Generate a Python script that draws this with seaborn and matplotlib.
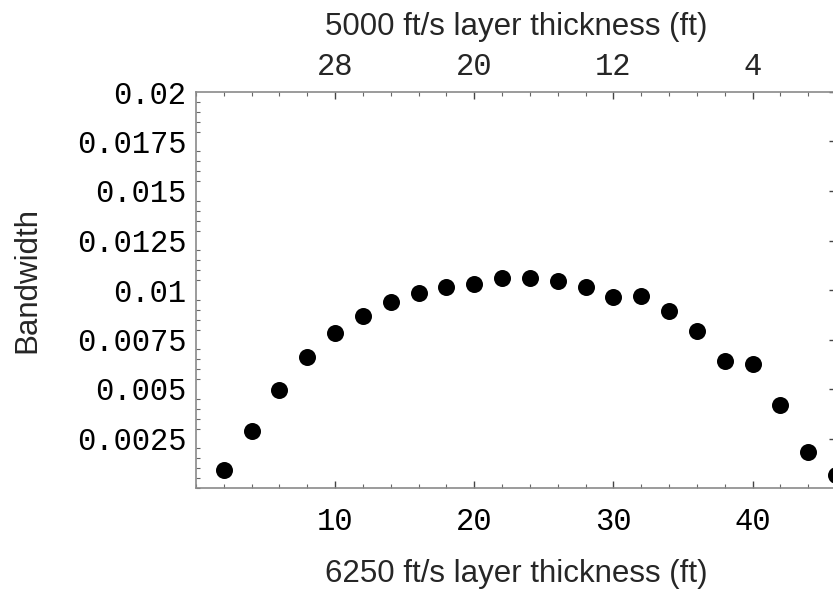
import numpy as np
import pandas as pd
import matplotlib
matplotlib.use("Agg")
import matplotlib.pyplot as plt
import seaborn as sns
from matplotlib.ticker import FixedLocator, MultipleLocator, FuncFormatter

# ---- data ----
thickness_6250 = [2, 4, 6, 8, 10, 12, 14, 16, 18, 20, 22, 24,
                  26, 28, 30, 32, 34, 36, 38, 40, 42, 44, 46]
bandwidth = [0.00091, 0.00288, 0.00495, 0.00660, 0.00781, 0.00869,
             0.00938, 0.00986, 0.01017, 0.01030, 0.01062, 0.01059,
             0.01044, 0.01014, 0.00963, 0.00970, 0.00895, 0.00791,
             0.00641, 0.00626, 0.00418, 0.00184, 0.00066]
bottom_ticks = [10, 20, 30, 40]
top_ticks = [28, 20, 12, 4]
y_ticks = [0.0025, 0.005, 0.0075, 0.01, 0.0125, 0.015, 0.0175, 0.02]
y_tick_labels = ["0.0025", "0.005", "0.0075", "0.01", "0.0125", "0.015", "0.0175", "0.02"]
xlabel_bottom = "6250 ft/s layer thickness (ft)"
xlabel_top = "5000 ft/s layer thickness (ft)"
ylabel = "Bandwidth"

df = pd.DataFrame({"x": thickness_6250, "y": bandwidth})

sns.set_theme(style="white")
plt.rcParams["font.family"] = ["Liberation Sans", "DejaVu Sans"]

W, H = 833, 592
fig = plt.figure(figsize=(W / 100, H / 100), dpi=100)
left_px, right_px, top_px, bot_px = 196, 836, 92, 488
ax = fig.add_axes([left_px / W, (H - bot_px) / H, (right_px - left_px) / W, (bot_px - top_px) / H])

sns.scatterplot(data=df, x="x", y="y", ax=ax, s=150, color="black",
                linewidth=0, legend=False, clip_on=False)

ax.set_xlim(0, 46)
ax.set_ylim(0, 0.02)
ax.set_xlabel("")
ax.set_ylabel("")

spine_col = "#8a8a8a"
for sp in ax.spines.values():
    sp.set_color(spine_col)
    sp.set_linewidth(1.2)

mono = ["Liberation Mono", "DejaVu Sans Mono"]
tick_fs = 22

ax.xaxis.set_major_locator(FixedLocator(bottom_ticks))
ax.xaxis.set_minor_locator(MultipleLocator(2))
ax.yaxis.set_major_locator(FixedLocator(y_ticks))
ax.yaxis.set_minor_locator(MultipleLocator(0.0005))
ax.set_yticklabels(y_tick_labels)

ax.tick_params(axis="both", which="major", direction="in", length=5, width=1.0,
               color="#444444", labelsize=tick_fs, labelcolor="black")
ax.tick_params(axis="both", which="minor", direction="in", length=3, width=0.8,
               color="#666666")
ax.tick_params(axis="x", which="major", pad=14)
ax.tick_params(axis="y", which="major", pad=7)
ax.tick_params(axis="y", which="major", right=True)
ax.tick_params(axis="y", which="minor", right=False, left=True)
ax.tick_params(axis="x", which="both", bottom=True, top=False)

for lab in ax.get_xticklabels() + ax.get_yticklabels():
    lab.set_family(mono)

sec = ax.secondary_xaxis("top", functions=(lambda x: 36 - 0.8 * x,
                                           lambda t: (36 - t) / 0.8))
sec.xaxis.set_major_locator(FixedLocator(top_ticks))
sec.xaxis.set_minor_locator(FixedLocator([36 - 1.6 * k for k in range(0, 24)]))
sec.tick_params(axis="x", which="major", direction="in", length=5, width=1.0,
                color="#444444", labelsize=tick_fs, pad=7)
sec.tick_params(axis="x", which="minor", direction="in", length=3, width=0.8,
                color="#666666")
sec.spines["top"].set_visible(False)
sec.xaxis.set_major_formatter(FuncFormatter(lambda v, p: f"{v:g}"))
for lab in sec.get_xticklabels():
    lab.set_family(mono)

label_fs = 22.5
cx = (left_px + right_px) / 2 / W
fig.text(cx, 1 - 582 / H, xlabel_bottom, ha="center", va="baseline", fontsize=label_fs)
fig.text(cx, 1 - 35 / H, xlabel_top, ha="center", va="baseline", fontsize=label_fs)
fig.text(27 / W, 1 - 280 / H, ylabel, ha="center", va="center", rotation=90, fontsize=label_fs)

fig.savefig("out.png", dpi=100)
